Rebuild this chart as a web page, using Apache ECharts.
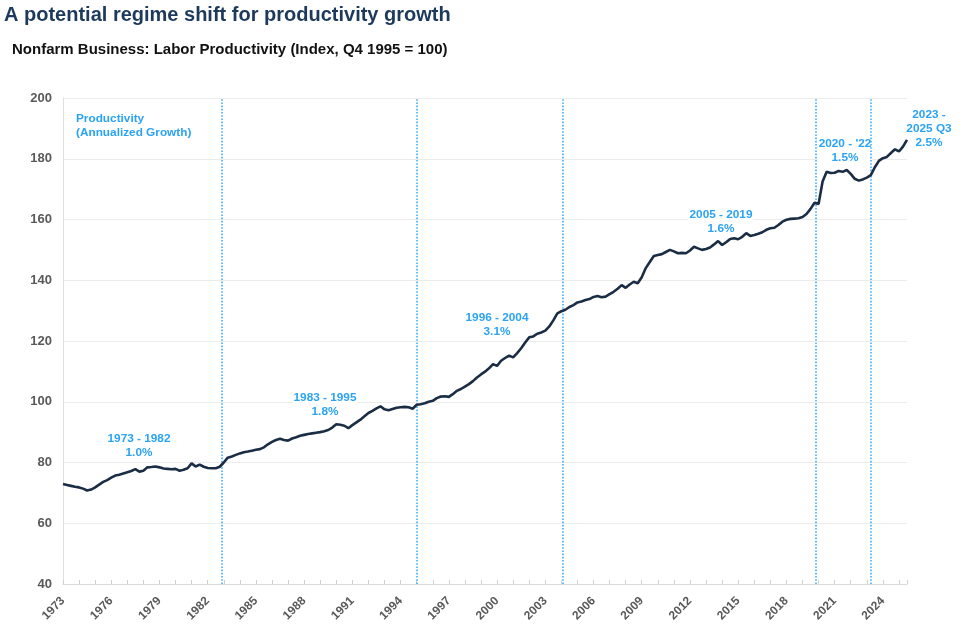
<!DOCTYPE html>
<html>
<head>
<meta charset="utf-8">
<script src="https://cdn.jsdelivr.net/npm/echarts@6/dist/echarts.min.js"></script>
<style>
  html, body { margin: 0; padding: 0; background: #ffffff; }
  #chart { width: 975px; height: 644px; }
</style>
</head>
<body>
<div id="chart"></div>
<script>
// ---- Data (quarterly, 1973 Q1 .. 2025 Q3), Index Q4 1995 = 100 ----
const startYear = 1973;
const productivity = [
  // 1973
  72.9, 72.6, 72.3, 72.0,
  // 1974
  71.8, 71.4, 70.8, 71.1,
  // 1975
  71.8, 72.7, 73.6, 74.2,
  // 1976
  75.0, 75.7, 76.0, 76.4,
  // 1977
  76.8, 77.2, 77.8, 77.0,
  // 1978
  77.3, 78.4, 78.5, 78.7,
  // 1979
  78.4, 78.0, 77.9, 77.8,
  // 1980
  77.9, 77.3, 77.6, 78.1,
  // 1981
  79.7, 78.7, 79.3, 78.6,
  // 1982
  78.2, 78.1, 78.1, 78.6,
  // 1983
  80.0, 81.6, 82.0, 82.5,
  // 1984
  83.0, 83.4, 83.6, 83.9,
  // 1985
  84.2, 84.4, 85.0, 86.0,
  // 1986
  86.8, 87.4, 87.8, 87.4,
  // 1987
  87.2, 87.9, 88.3, 88.8,
  // 1988
  89.1, 89.4, 89.6, 89.8,
  // 1989
  90.0, 90.3, 90.7, 91.5,
  // 1990
  92.6, 92.4, 92.1, 91.3,
  // 1991
  92.3, 93.2, 94.1, 95.2,
  // 1992
  96.3, 97.0, 97.8, 98.5,
  // 1993
  97.5, 97.2, 97.6, 98.0,
  // 1994
  98.2, 98.3, 98.2, 97.7,
  // 1995
  99.0, 99.2, 99.5, 100.0,
  // 1996
  100.3, 101.2, 101.7, 101.8,
  // 1997
  101.6, 102.5, 103.6, 104.2,
  // 1998
  105.0, 105.8, 106.8, 108.0,
  // 1999
  109.0, 109.9, 111.0, 112.4,
  // 2000
  111.8, 113.5, 114.4, 115.2,
  // 2001
  114.6, 116.0, 117.6, 119.5,
  // 2002
  121.2, 121.5, 122.4, 122.8,
  // 2003
  123.4, 124.8, 126.8, 129.1,
  // 2004
  129.8, 130.3, 131.2, 131.8,
  // 2005
  132.7, 133.0, 133.5, 133.8,
  // 2006
  134.5, 134.8, 134.4, 134.6,
  // 2007
  135.4, 136.2, 137.2, 138.4,
  // 2008
  137.5, 138.6, 139.5, 139.0,
  // 2009
  141.0, 144.0, 146.0, 148.0,
  // 2010
  148.3, 148.6, 149.3, 150.0,
  // 2011
  149.5, 148.9, 149.0, 148.9,
  // 2012
  149.8, 151.0, 150.5, 150.0,
  // 2013
  150.3, 150.8, 151.8, 152.9,
  // 2014
  151.6, 152.5, 153.6, 153.8,
  // 2015
  153.5, 154.3, 155.5, 154.6,
  // 2016
  154.9, 155.3, 155.8, 156.6,
  // 2017
  157.1, 157.3, 158.2, 159.3,
  // 2018
  159.9, 160.2, 160.3, 160.4,
  // 2019
  160.8, 161.8, 163.5, 165.5,
  // 2020
  165.1, 172.5, 175.7, 175.3,
  // 2021
  175.4, 176.0, 175.7, 176.3,
  // 2022
  175.0, 173.4, 172.8, 173.2,
  // 2023
  173.8, 174.6, 177.2, 179.3,
  // 2024
  180.2, 180.6, 181.9, 183.1,
  // 2025 (Q1-Q3)
  182.4, 184.0, 186.2
];

// Period dividers (in quarters since 1973 Q1, as drawn in the source)
const dividerQuarters = [39.4, 88.0, 124.4, 187.2, 201.1];

// Period annotations
const periodNames  = ['1973 - 1982', '1983 - 1995', '1996 - 2004', '2005 - 2019', "2020 - '22", '2023 -\n2025 Q3'];
const periodGrowth = ['1.0%', '1.8%', '3.1%', '1.6%', '1.5%', '2.5%'];

const titleText    = 'A potential regime shift for productivity growth';
const subtitleText = 'Nonfarm Business: Labor Productivity (Index, Q4 1995 = 100)';
const legendNote   = 'Productivity\n(Annualized Growth)';

// ---- Build series points ----
const seriesData = productivity.map((v, i) => [i, v]);

const FONT = '"Liberation Sans", Arial, sans-serif';
const annoColor = '#2aa3f5';
const annoPos = [
  [139, 432], [325, 391], [497, 311], [721, 208], [845, 137], [929, 108]
];

const graphics = [
  { type: 'text', left: 4, top: 5, z: 1,
    style: { text: titleText, fill: '#1d3a5c', font: 'bold 20px ' + FONT } },
  { type: 'text', left: 12, top: 42, z: 1,
    style: { text: subtitleText, fill: '#111111', font: 'bold 15px ' + FONT } },
  { type: 'text', left: 76, top: 112, z: 1,
    style: { text: legendNote, fill: annoColor, font: 'bold 11.8px ' + FONT, lineHeight: 14 } }
];
periodNames.forEach((name, k) => {
  graphics.push({
    type: 'text', x: annoPos[k][0], y: annoPos[k][1], z: 1,
    style: {
      text: name + '\n' + periodGrowth[k],
      fill: annoColor,
      font: 'bold 11.8px ' + FONT,
      lineHeight: 14,
      align: 'center',
      verticalAlign: 'top',
      backgroundColor: '#ffffff',
      padding: [0, 1, 0, 1]
    }
  });
});

const chart = echarts.init(document.getElementById('chart'), null, { renderer: 'canvas' });
chart.setOption({
  animation: false,
  backgroundColor: '#ffffff',
  grid: { left: 63, right: 68, top: 98, bottom: 60, containLabel: false },
  xAxis: {
    type: 'value',
    min: 0,
    max: 210,
    interval: 12,
    z: 0,
    axisLine: { show: true, lineStyle: { color: '#d9d9d9', width: 1 } },
    axisTick: { show: true, inside: true, length: 4, lineStyle: { color: '#d0d0d0' } },
    minorTick: { show: true, splitNumber: 3, length: 4, lineStyle: { color: '#d0d0d0' } },
    splitLine: { show: false },
    axisLabel: {
      rotate: 45,
      margin: 15,
      showMaxLabel: false,
      color: '#595959',
      fontWeight: 'bold',
      fontSize: 12,
      fontFamily: FONT,
      formatter: v => String(startYear + v / 4)
    }
  },
  yAxis: {
    type: 'value',
    min: 40,
    max: 200,
    interval: 20,
    z: 0,
    axisLine: { show: true, lineStyle: { color: '#e0e0e0', width: 1 } },
    axisTick: { show: false },
    splitLine: { show: true, lineStyle: { color: '#ececec', width: 1 } },
    axisLabel: {
      margin: 11,
      color: '#595959',
      fontWeight: 'bold',
      fontSize: 13,
      fontFamily: FONT
    }
  },
  series: [{
    type: 'line',
    data: seriesData,
    showSymbol: false,
    smooth: false,
    lineStyle: { color: '#1b2d44', width: 2.6 },
    z: 5,
    markLine: {
      silent: true,
      symbol: ['none', 'none'],
      label: { show: false },
      lineStyle: { color: '#3fb0ff', type: 'dotted', width: 1.6 },
      data: dividerQuarters.map(q => ({ xAxis: q }))
    }
  }],
  graphic: { elements: graphics }
});
</script>
</body>
</html>
